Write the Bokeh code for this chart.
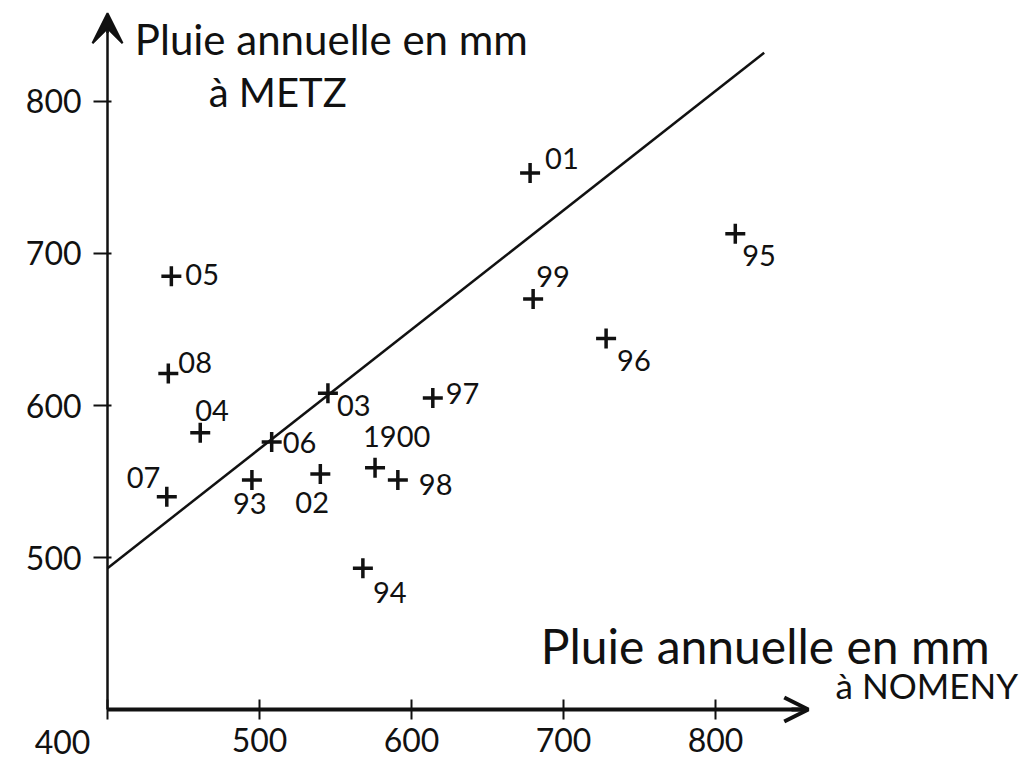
from bokeh.plotting import figure
from bokeh.models import Range1d, Arrow, VeeHead, OpenHead, Label, ColumnDataSource, LinearAxis
from bokeh.core.properties import value
from bokeh.embed import file_html
from bokeh.resources import INLINE

# Annual rainfall in mm: Nomeny (x) against Metz (y), one point per year
years = ["01", "95", "05", "99", "96", "08", "03", "97", "04", "06",
         "1900", "98", "02", "93", "07", "94"]
nomeny = [678, 813, 442, 680, 728, 440, 545, 614, 461, 508,
          576, 591, 540, 495, 439, 568]
metz = [753, 713, 685, 670, 644, 621, 608, 605, 582, 576,
        559, 551, 555, 551, 540, 493]

# Ends of the fitted straight line
fit_x = [400, 832]
fit_y = [493, 832]

x_ticks = [400, 500, 600, 700, 800]
y_ticks = [500, 600, 700, 800]

# Where each year's label sits relative to its cross (screen pixels)
label_dx = [15, 7, 14, 3, 11, 10, 9, 13, -5, 11, -12, 21, -25, -19, -40, 10]
label_dy = [-14, 22, -2, -23, 22, -11, 12, -4, -22, 1, -31, 5, 29, 24, -19, 24]

FONT = "Lato"
INK = "#111111"

# the plotting frame covers the whole page; the axes are anchored at 400 mm
p = figure(width=1023, height=765,
           x_range=Range1d(329.6, 1002.6), y_range=Range1d(363.2, 866.4),
           x_axis_location=None, y_axis_location=None,
           min_border=0, output_backend="svg", toolbar_location=None)
p.outline_line_color = None
p.xgrid.visible = False
p.ygrid.visible = False
p.background_fill_color = "white"
p.border_fill_color = "white"

# x axis (Nomeny)
xa = LinearAxis(fixed_location=400, ticker=x_ticks, bounds=(400, 856))
xa.axis_line_width = 4
xa.axis_line_color = INK
xa.major_tick_in = 10
xa.major_tick_out = 10
xa.major_tick_line_width = 2
xa.major_tick_line_color = INK
xa.minor_tick_line_color = None
xa.major_label_standoff = 8
xa.major_label_text_font = FONT
xa.major_label_text_font_size = "32px"
xa.major_label_text_color = INK
xa.major_label_overrides = {400: ""}
p.add_layout(xa, "below")

# y axis (Metz)
ya = LinearAxis(fixed_location=400, ticker=y_ticks, bounds=(400, 850))
ya.axis_line_width = 2.5
ya.axis_line_color = INK
ya.major_tick_in = 4
ya.major_tick_out = 14
ya.major_tick_line_width = 2
ya.major_tick_line_color = INK
ya.minor_tick_line_color = None
ya.major_label_standoff = 12
ya.major_label_text_font = FONT
ya.major_label_text_font_size = "32px"
ya.major_label_text_color = INK
ya.major_label_orientation = "horizontal"
p.add_layout(ya, "left")

# arrow heads at the ends of both axes
p.add_layout(Arrow(end=VeeHead(size=30, fill_color=INK, line_color=INK, line_width=2),
                   x_start=400, y_start=845, x_end=400, y_end=858,
                   line_width=2.5, line_color=INK))
p.add_layout(Arrow(end=OpenHead(size=24, line_color=INK, line_width=4),
                   x_start=850, y_start=400, x_end=861, y_end=400,
                   line_width=4, line_color=INK))

# fitted line
p.line(fit_x, fit_y, line_width=2.5, line_color=INK)

# one cross per year with its label
src = ColumnDataSource(dict(x=nomeny, y=metz, year=years, dx=label_dx, dy=label_dy))
p.scatter("x", "y", source=src, marker="cross", size=20, line_width=3.5, line_color=INK)
p.text("x", "y", text="year", source=src, x_offset="dx", y_offset="dy",
       text_font=value(FONT), text_font_size="29px", text_color=INK,
       text_align="left", text_baseline="middle")

# axis titles
p.add_layout(Label(x=418, y=841, text="Pluie annuelle en mm", text_font=FONT,
                   text_font_size="42px", text_color=INK, text_baseline="middle"))
p.add_layout(Label(x=512, y=806, text="à METZ", text_font=FONT,
                   text_font_size="40px", text_color=INK, text_baseline="middle",
                   text_align="center"))
p.add_layout(Label(x=685, y=442, text="Pluie annuelle en mm", text_font=FONT,
                   text_font_size="48px", text_color=INK, text_baseline="middle"))
p.add_layout(Label(x=879, y=416, text="à NOMENY", text_font=FONT,
                   text_font_size="35px", text_color=INK, text_baseline="middle"))

# origin value sits below-left of the corner
p.add_layout(Label(x=400, y=400, x_offset=-45, y_offset=-32, text="400", text_font=FONT,
                   text_font_size="32px", text_color=INK, text_baseline="middle",
                   text_align="center"))

open("out.html", "w").write(file_html(p, INLINE))
